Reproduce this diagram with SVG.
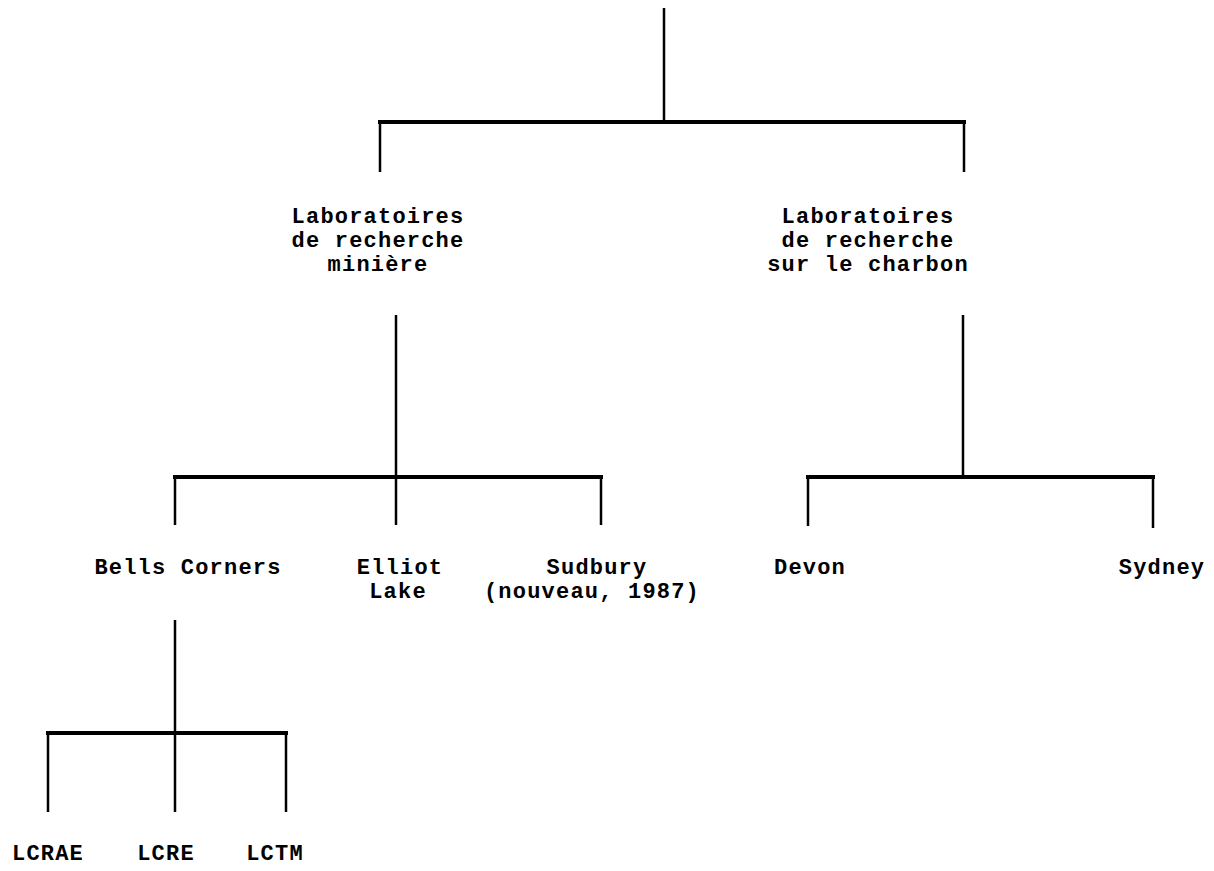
<svg xmlns="http://www.w3.org/2000/svg" width="1214" height="871" viewBox="0 0 1214 871">
<style>
.bg{fill:#fff}
.h{stroke:#000;stroke-width:4;fill:none;stroke-linecap:square}
.v{stroke:#000;stroke-width:2.5;fill:none}
text{font-family:"Liberation Mono","Courier New",monospace;font-size:22px;letter-spacing:1.2px;fill:#000;text-anchor:middle;font-weight:bold}
</style>
<rect class="bg" x="0" y="0" width="1214" height="871"/>
<g id="connectors">
<line class="v" x1="664" y1="8" x2="664" y2="122"/>
<line class="h" x1="380" y1="122" x2="964" y2="122"/>
<line class="v" x1="380" y1="122" x2="380" y2="172"/>
<line class="v" x1="964" y1="122" x2="964" y2="172"/>
<line class="v" x1="396" y1="315" x2="396" y2="525"/>
<line class="h" x1="175" y1="477" x2="601" y2="477"/>
<line class="v" x1="175" y1="477" x2="175" y2="525"/>
<line class="v" x1="601" y1="477" x2="601" y2="525"/>
<line class="v" x1="963" y1="315" x2="963" y2="477"/>
<line class="h" x1="808" y1="477" x2="1153" y2="477"/>
<line class="v" x1="808" y1="477" x2="808" y2="526"/>
<line class="v" x1="1153" y1="477" x2="1153" y2="528"/>
<line class="v" x1="175" y1="620" x2="175" y2="812"/>
<line class="h" x1="48" y1="733" x2="286" y2="733"/>
<line class="v" x1="48" y1="733" x2="48" y2="812"/>
<line class="v" x1="286" y1="733" x2="286" y2="812"/>
</g>
<g id="lab-miniere">
<text x="378" y="223">Laboratoires</text>
<text x="378" y="247">de recherche</text>
<text x="378" y="271">minière</text>
</g>
<g id="lab-charbon">
<text x="868" y="223">Laboratoires</text>
<text x="868" y="247">de recherche</text>
<text x="868" y="271">sur le charbon</text>
</g>
<g id="bells-corners"><text x="188" y="574">Bells Corners</text></g>
<g id="elliot-lake"><text x="400" y="574">Elliot</text><text x="398" y="598">Lake</text></g>
<g id="sudbury"><text x="597" y="574">Sudbury</text><text x="592" y="598">(nouveau, 1987)</text></g>
<g id="devon"><text x="810" y="574">Devon</text></g>
<g id="sydney"><text x="1162" y="574">Sydney</text></g>
<g id="lcrae"><text x="48" y="860">LCRAE</text></g>
<g id="lcre"><text x="166" y="860">LCRE</text></g>
<g id="lctm"><text x="275" y="860">LCTM</text></g>
</svg>
